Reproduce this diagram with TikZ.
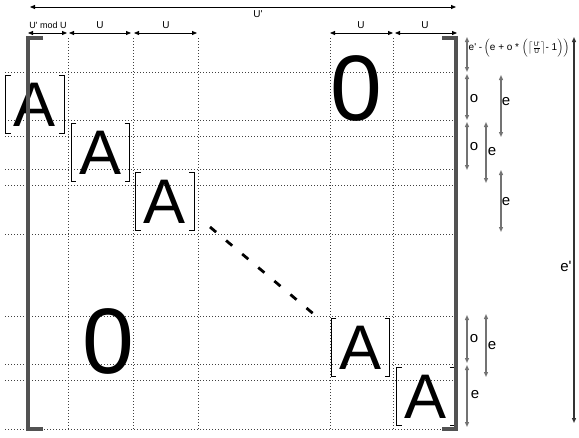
\documentclass[tikz,border=0pt]{standalone}
\usepackage{fontspec}
\setmainfont{Liberation Sans}
\usetikzlibrary{arrows.meta}
\newcommand\ap{\textquotesingle}
\newcommand\drawbrk[1]{%
  \draw[abrk] ([xshift=5pt]#1.north west) -- (#1.north west) -- (#1.south west) -- ([xshift=5pt]#1.south west);
  \draw[abrk] ([xshift=-5pt]#1.north east) -- (#1.north east) -- (#1.south east) -- ([xshift=-5pt]#1.south east);}
\begin{document}
\begin{tikzpicture}[x=1pt,y=-1pt,
  gridline/.style={black!75, line width=0.7pt, dash pattern=on 0.7pt off 2.3pt},
  bigbrk/.style={line width=3.6pt, draw=black!68, line join=miter},
  abrk/.style={black, line width=0.9pt, line join=miter},
  ablock/.style={minimum width=58pt, minimum height=57pt, inner sep=0pt, font=\fontsize{63}{63}\selectfont},
  zero/.style={inner sep=0pt, font=\fontsize{93}{93}\selectfont},
  dimh/.style={black, line width=0.8pt, {Triangle[length=5pt,width=4pt]}-{Triangle[length=5pt,width=4pt]}},
  dimv/.style={black!55, line width=1.2pt, {Triangle[length=5pt,width=4pt]}-{Triangle[length=5pt,width=4pt]}},
  dimbig/.style={black!80, line width=1.2pt, {Triangle[length=5pt,width=4pt]}-{Triangle[length=5pt,width=4pt]}},
  lbl/.style={inner sep=0.5pt, font=\fontsize{10}{12}\selectfont},
  slbl/.style={inner sep=0.5pt, font=\fontsize{9}{11}\selectfont},
  flbl/.style={inner sep=0.5pt, font=\fontsize{10}{12}\selectfont},
  vlbl/.style={inner sep=0.5pt, font=\fontsize{15}{17}\selectfont},
  dots/.style={line width=2.8pt, dash pattern=on 8pt off 13pt}]
\useasboundingbox (0,0) rectangle (579,437);
% grid
\foreach \yy in {72,120,136,169,185,234,316,364,380,429}
  \draw[gridline] (5,\yy) -- (455,\yy);
\foreach \xx in {68,133,198,330,393}
  \draw[gridline] (\xx,38) -- (\xx,430);
% A blocks
\node[ablock] (A1) at (35,104.5) {A};
\node[ablock] (A2) at (100.5,152.5) {A};
\node[ablock] (A3) at (165,201.5) {A};
\node[ablock] (A4) at (360.5,347.5) {A};
\node[ablock] (A5) at (426,396.5) {A};
\drawbrk{A1}\drawbrk{A2}\drawbrk{A3}\drawbrk{A4}\drawbrk{A5}
% zeros
\node[zero] (Z1) at (356,88) {0};
\node[zero] (Z2) at (108,341) {0};
% dots
\coordinate (d1) at (210,227);
\coordinate (d2) at (316,316);
\draw[dots] (d1) -- (d2);
% big brackets
\draw[bigbrk] (43,38) -- (28,38) -- (28,429) -- (43,429);
\draw[bigbrk] (442,38) -- (456,38) -- (456,429) -- (442,429);
% top dimensions
\coordinate (t1) at (30,7); \coordinate (t2) at (456,7);
\draw[dimh] (t1) -- (t2);
\node[lbl] (Up) at (258,14) {U\ap};
\coordinate (h0) at (28,33); \coordinate (h1) at (67,33);
\coordinate (h2) at (69,33); \coordinate (h3) at (131,33);
\coordinate (h4) at (134,33); \coordinate (h5) at (197,33);
\coordinate (h6) at (330,33); \coordinate (h7) at (393,33);
\coordinate (h8) at (395,33); \coordinate (h9) at (457,33);
\draw[dimh] (h0) -- (h1);
\draw[dimh] (h2) -- (h3);
\draw[dimh] (h4) -- (h5);
\draw[dimh] (h6) -- (h7);
\draw[dimh] (h8) -- (h9);
\node[slbl] (lm) at (48,25) {U\ap\ mod U};
\node[lbl] (l1) at (100,25) {U};
\node[lbl] (l2) at (166,25) {U};
\node[lbl] (l3) at (361,25) {U};
\node[lbl] (l4) at (425,25) {U};
% right dimensions, column 1
\coordinate (a1) at (467,37); \coordinate (a2) at (467,72);
\coordinate (a3) at (467,74); \coordinate (a4) at (467,120);
\coordinate (a5) at (467,122); \coordinate (a6) at (467,170);
\coordinate (a7) at (467,315); \coordinate (a8) at (467,363);
\coordinate (a9) at (467,365); \coordinate (a10) at (467,427);
\draw[dimv] (a1) -- (a2);
\draw[dimv] (a3) -- (a4);
\draw[dimv] (a5) -- (a6);
\draw[dimv] (a7) -- (a8);
\draw[dimv] (a9) -- (a10);
\node[flbl, anchor=west] (fm) at (468,48) {e\ap\ -\,$\Bigl($e + o * $\Bigl(\left\lceil\frac{\mbox{\fontsize{6.5}{6.5}\selectfont U\ap}}{\mbox{\fontsize{6.5}{6.5}\selectfont U}}\right\rceil$- 1$\Bigr)\Bigr)$};
\node[vlbl] (o1) at (474,99) {o};
\node[vlbl] (o2) at (474,147) {o};
\node[vlbl] (o3) at (474,339) {o};
\node[vlbl] (e1) at (475,395) {e};
% column 2
\coordinate (b1) at (486,122); \coordinate (b2) at (486,183);
\coordinate (b3) at (486,314); \coordinate (b4) at (486,377);
\draw[dimv] (b1) -- (b2);
\draw[dimv] (b3) -- (b4);
\node[vlbl] (e2) at (492,152) {e};
\node[vlbl] (e3) at (492,346) {e};
% column 3
\coordinate (c1) at (501,75); \coordinate (c2) at (501,137);
\coordinate (c3) at (501,170); \coordinate (c4) at (501,232);
\draw[dimv] (c1) -- (c2);
\draw[dimv] (c3) -- (c4);
\node[vlbl] (e4) at (506,102) {e};
\node[vlbl] (e5) at (506,202) {e};
% column 4
\coordinate (g1) at (574,37); \coordinate (g2) at (574,423);
\draw[dimbig] (g1) -- (g2);
\node[vlbl] (ep) at (566,266) {e\ap};
\end{tikzpicture}
\end{document}
